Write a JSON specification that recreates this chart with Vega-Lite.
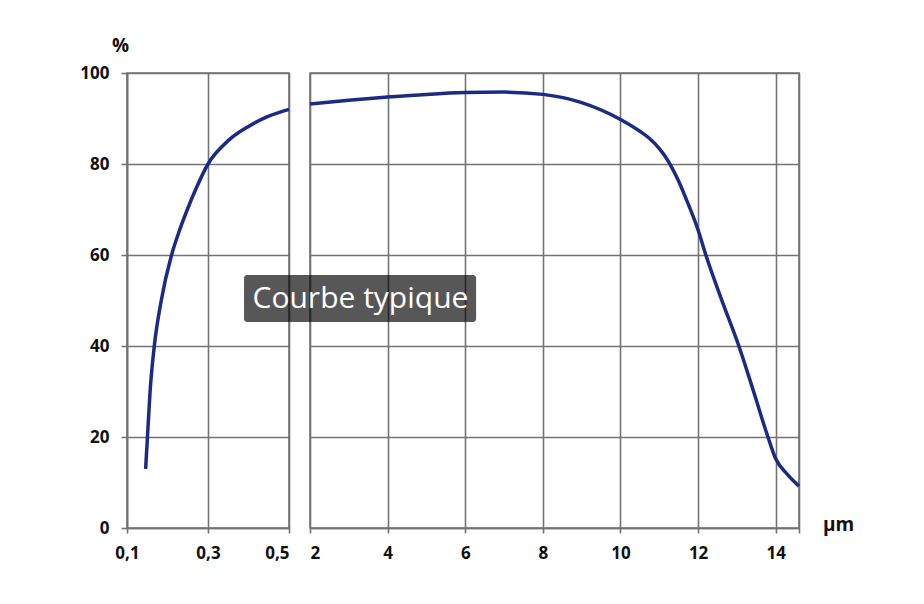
{
  "$schema": "https://vega.github.io/schema/vega-lite/v6.json",
  "background": "white",
  "padding": {"left": 79, "top": 35, "right": 40, "bottom": 30},
  "spacing": 21,
  "bounds": "flush",
  "config": {
    "view": {"stroke": "#737373", "strokeWidth": 1.6},
    "axis": {
      "gridColor": "#737373", "gridWidth": 1.6, "gridOpacity": 1,
      "domainColor": "#737373", "domainWidth": 1.6,
      "tickColor": "#737373", "tickWidth": 1.6,
      "labelFont": "Open Sans", "labelFontWeight": "bold", "labelFontSize": 17, "labelColor": "#111111",
      "titleFont": "Open Sans", "titleFontWeight": "bold", "titleFontSize": 19, "titleColor": "#111111"
    }
  },
  "datasets": {
    "short": [
      {"um": 0.146, "pct": 13},
      {"um": 0.1505, "pct": 20},
      {"um": 0.157, "pct": 30},
      {"um": 0.1674, "pct": 40},
      {"um": 0.1846, "pct": 50},
      {"um": 0.21, "pct": 60},
      {"um": 0.228, "pct": 65},
      {"um": 0.249, "pct": 70},
      {"um": 0.27, "pct": 74.5},
      {"um": 0.3, "pct": 80},
      {"um": 0.352, "pct": 85.3},
      {"um": 0.399, "pct": 88.2},
      {"um": 0.447, "pct": 90.4},
      {"um": 0.5, "pct": 92}
    ],
    "long": [
      {"um": 2, "pct": 93.2},
      {"um": 3, "pct": 94.0},
      {"um": 4, "pct": 94.7},
      {"um": 5, "pct": 95.3},
      {"um": 6, "pct": 95.7},
      {"um": 7, "pct": 95.8},
      {"um": 8, "pct": 95.3},
      {"um": 9, "pct": 93.5},
      {"um": 10, "pct": 89.8},
      {"um": 10.5, "pct": 87.2},
      {"um": 10.75, "pct": 85.6},
      {"um": 11, "pct": 83.4},
      {"um": 11.15, "pct": 81.7},
      {"um": 11.3, "pct": 79.6},
      {"um": 11.5, "pct": 76.2},
      {"um": 11.65, "pct": 73.2},
      {"um": 12, "pct": 65.5},
      {"um": 12.2, "pct": 60},
      {"um": 12.6, "pct": 50.3},
      {"um": 13.05, "pct": 40},
      {"um": 13.43, "pct": 30},
      {"um": 13.8, "pct": 20},
      {"um": 14, "pct": 15.2},
      {"um": 14.3, "pct": 11.8},
      {"um": 14.6, "pct": 9.2}
    ],
    "note": [
      {"label": "Courbe typique", "x0": 0.3, "x1": 6.28, "y0": 45.3, "y1": 55.6, "xc": 3.3, "yc": 50.4}
    ]
  },
  "hconcat": [
    {
      "width": 162,
      "height": 455,
      "data": {"name": "short"},
      "mark": {"type": "line", "interpolate": "monotone", "color": "#1b2a85", "strokeWidth": 3.5},
      "encoding": {
        "x": {
          "field": "um", "type": "quantitative",
          "scale": {"domain": [0.1, 0.5], "nice": false, "zero": false},
          "axis": {
            "values": [0.1, 0.3, 0.5],
            "labelExpr": "replace(format(datum.value, '.1f'), '.', ',')",
            "title": null, "tickSize": 5, "labelPadding": 12,
            "labelAlign": {"condition": {"test": "datum.value == 0.5", "value": "right"}, "value": "center"}
          }
        },
        "y": {
          "field": "pct", "type": "quantitative",
          "scale": {"domain": [0, 100], "nice": false},
          "axis": {
            "values": [0, 20, 40, 60, 80, 100],
            "title": "%", "titleAngle": 0, "titleX": -7, "titleY": -22,
            "titleAlign": "center", "titleBaseline": "alphabetic",
            "tickSize": 6, "labelPadding": 12
          }
        }
      }
    },
    {
      "width": 489,
      "height": 455,
      "layer": [
        {
          "data": {"name": "long"},
          "mark": {"type": "line", "interpolate": "monotone", "color": "#1b2a85", "strokeWidth": 3.5},
          "encoding": {
            "x": {
              "field": "um", "type": "quantitative",
              "scale": {"domain": [2, 14.6], "nice": false, "zero": false},
              "axis": {
                "values": [2, 4, 6, 8, 10, 12, 14, 14.6],
                "labelExpr": "datum.value > 14.5 ? '' : format(datum.value, 'd')",
                "title": "µm", "titleX": 528, "titleY": -4,
                "titleAlign": "center", "titleBaseline": "middle",
                "tickSize": 5, "labelPadding": 12
              }
            },
            "y": {
              "field": "pct", "type": "quantitative",
              "scale": {"domain": [0, 100], "nice": false},
              "axis": {"values": [0, 20, 40, 60, 80, 100], "labels": false, "ticks": false, "domain": false, "title": null}
            }
          }
        },
        {
          "data": {"name": "note"},
          "mark": {"type": "rect", "color": "#000000", "opacity": 0.66, "cornerRadius": 3},
          "encoding": {
            "x": {"field": "x0", "type": "quantitative"},
            "x2": {"field": "x1"},
            "y": {"field": "y0", "type": "quantitative"},
            "y2": {"field": "y1"}
          }
        },
        {
          "data": {"name": "note"},
          "mark": {"type": "text", "color": "#ffffff", "font": "Open Sans", "fontSize": 30, "align": "center", "baseline": "middle"},
          "encoding": {
            "x": {"field": "xc", "type": "quantitative"},
            "y": {"field": "yc", "type": "quantitative"},
            "text": {"field": "label"}
          }
        }
      ]
    }
  ]
}
